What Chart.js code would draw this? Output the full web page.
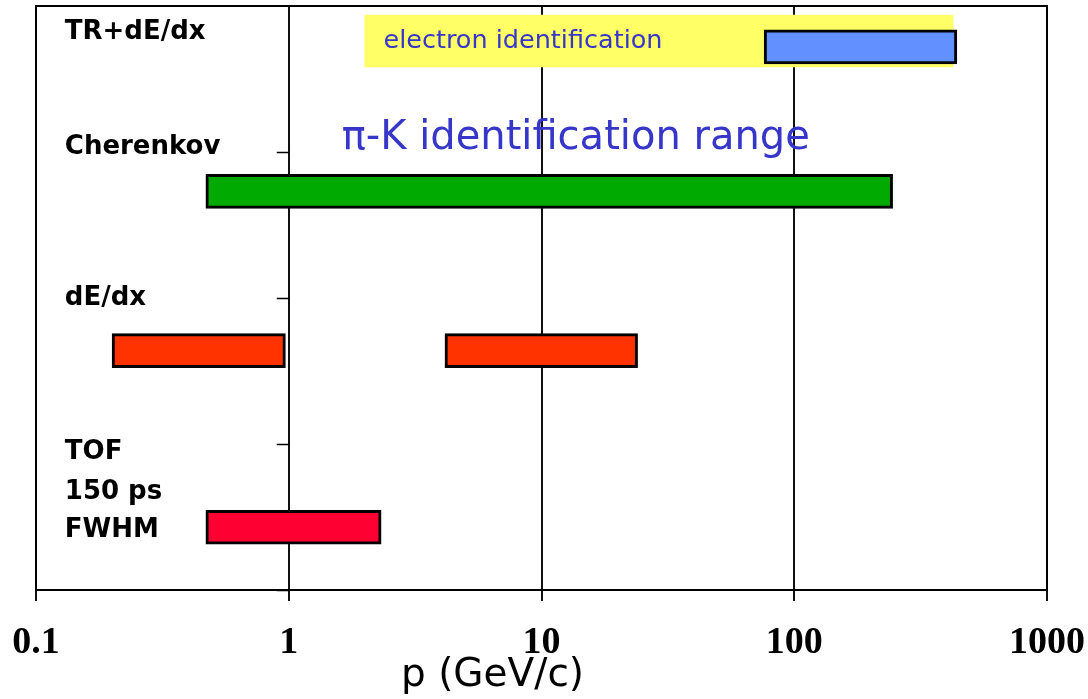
<!DOCTYPE html>
<html><head><meta charset="utf-8">
<script src="https://cdn.jsdelivr.net/npm/chart.js@4.4.1/dist/chart.umd.min.js"></script>
<style>html,body{margin:0;padding:0;background:#fff}#wrap{width:1088px;height:699px}</style>
</head><body><div id="wrap"><canvas id="c" width="1088" height="699"></canvas></div>
<script>
// ---- data ----
const techniques = ['TOF 150 ps FWHM', 'dE/dx (low)', 'dE/dx (rel. rise)', 'Cherenkov', 'TR+dE/dx'];
const rowLevel   = [0.43, 1.64, 1.64, 2.73, 3.72];
const pMin       = [0.47, 0.20, 4.15, 0.47, 76];
const pMax       = [2.32, 0.97, 24, 245, 440];
const barColors  = ['#FF0033', '#FF3300', '#FF3300', '#00AA00', '#6290FF'];
const electronRange = [2, 425];
const electronLevel = 3.76;
const xTicks = [0.1, 1, 10, 100, 1000];
const yTicks = [0, 1, 2, 3];
const rowLabels = ['TR+dE/dx', 'Cherenkov', 'dE/dx', 'TOF', '150 ps', 'FWHM'];
const rowLabelLevel = [3.82, 3.03, 2.0, 0.945, 0.67, 0.41];

const FONT = '"Comic Sans MS", "DejaVu Sans", sans-serif';

const annot = {
  id: 'annot',
  beforeDatasetsDraw(chart) {
    const {ctx} = chart;
    const x = chart.scales.x, y = chart.scales.y;
    ctx.save();
    ctx.strokeStyle = '#000'; ctx.lineWidth = 1.5;
    const x1 = x.getPixelForValue(1);
    yTicks.forEach(v => {
      const py = Math.round(y.getPixelForValue(v)) + 0.5;
      ctx.beginPath(); ctx.moveTo(x1 - 12, py); ctx.lineTo(x1, py); ctx.stroke();
    });
    ctx.restore();
  },
  afterDatasetsDraw(chart) {
    const {ctx, chartArea: a} = chart;
    const x = chart.scales.x, y = chart.scales.y;
    ctx.save();
    ctx.strokeStyle = '#000'; ctx.lineWidth = 2;
    ctx.strokeRect(a.left, a.top, a.right - a.left, a.bottom - a.top);
    ctx.fillStyle = '#000';
    ctx.font = 'bold 26px ' + FONT;
    ctx.textBaseline = 'middle'; ctx.textAlign = 'left';
    const lx = x.getPixelForValue(0.13);
    rowLabels.forEach((t, i) => ctx.fillText(t, lx, y.getPixelForValue(rowLabelLevel[i])));
    ctx.fillStyle = '#3636C8';
    ctx.font = '25.5px ' + FONT;
    ctx.fillText('electron identification', x.getPixelForValue(2.37), y.getPixelForValue(electronLevel));
    ctx.font = '40px ' + FONT;
    ctx.fillText('\u03C0-K identification range', x.getPixelForValue(1.62), y.getPixelForValue(3.09));
    ctx.fillStyle = '#000';
    ctx.font = '39px ' + FONT;
    ctx.textAlign = 'center';
    ctx.fillText('p (GeV/c)', x.getPixelForValue(6.4), 676);
    ctx.restore();
  }
};

new Chart(document.getElementById('c'), {
  type: 'bar',
  data: {
    datasets: [
      {
        label: 'π/K and e identification',
        data: techniques.map((t, i) => ({y: rowLevel[i], x: [pMin[i], pMax[i]]})),
        backgroundColor: barColors,
        borderColor: '#000',
        borderWidth: 3,
        borderSkipped: false,
        barThickness: 34,
        grouped: false,
        order: 0
      },
      {
        label: 'electron identification',
        data: [{y: electronLevel, x: electronRange}],
        backgroundColor: '#FFFF66',
        borderWidth: 0,
        barThickness: 52,
        grouped: false,
        order: 10
      }
    ]
  },
  options: {
    indexAxis: 'y',
    responsive: false,
    animation: false,
    layout: {padding: {left: 36, right: 41, top: 6, bottom: 0}},
    plugins: {legend: {display: false}, tooltip: {enabled: false}},
    scales: {
      y: {type: 'linear', min: 0, max: 4, display: false, offset: false},
      x: {
        type: 'logarithmic', min: 0.1, max: 1000,
        afterBuildTicks(s) { s.ticks = xTicks.map(v => ({value: v, major: true})); },
        afterFit(s) { s.height = 109; s.paddingLeft = 0; s.paddingRight = 0; },
        grid: {color: '#111', lineWidth: 2, tickLength: 11, tickColor: '#111', drawOnChartArea: true},
        border: {display: false},
        ticks: {
          autoSkip: false, maxRotation: 0, padding: 19, color: '#000',
          font: {family: '"Liberation Serif", "Times New Roman", serif', size: 38, weight: 'bold'},
          callback: v => String(v)
        }
      }
    }
  },
  plugins: [annot]
});
</script>
</body></html>
